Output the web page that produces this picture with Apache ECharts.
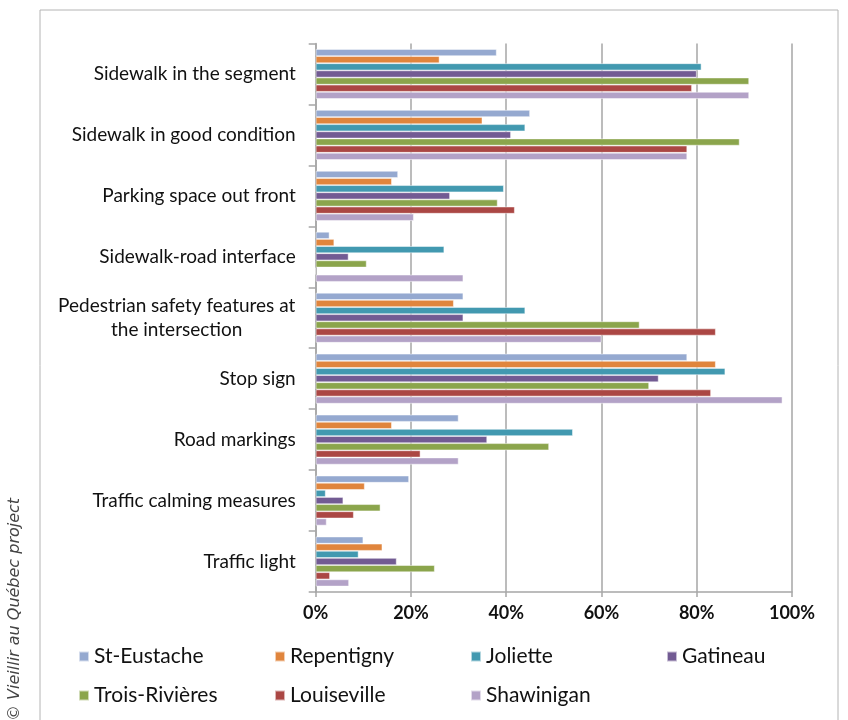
<!DOCTYPE html>
<html>
<head>
<meta charset="utf-8">
<script src="https://cdn.jsdelivr.net/npm/echarts@6/dist/echarts.min.js"></script>
<style>
html,body{margin:0;padding:0;background:#fff;}
#chart{width:848px;height:720px;}
</style>
</head>
<body>
<div id="chart"></div>
<script>
const categories = [
  'Sidewalk in the segment',
  'Sidewalk in good condition',
  'Parking space out front',
  'Sidewalk-road interface',
  'Pedestrian safety features at the intersection',
  'Stop sign',
  'Road markings',
  'Traffic calming measures',
  'Traffic light'
];
const seriesNames = ['St-Eustache','Repentigny','Joliette','Gatineau','Trois-Rivières','Louiseville','Shawinigan'];
const stEustache   = [38, 45, 17.3, 2.9, 31, 78, 30, 19.6, 10];
const repentigny   = [26, 35, 16, 3.9, 29, 84, 16, 10.3, 14];
const joliette     = [81, 44, 39.5, 27, 44, 86, 54, 2.1, 9];
const gatineau     = [80, 41, 28.2, 6.9, 31, 72, 36, 5.8, 17];
const troisRivieres= [91, 89, 38.2, 10.7, 68, 70, 49, 13.6, 25];
const louiseville  = [79, 78, 41.8, 0, 84, 83, 22, 8, 3];
const shawinigan   = [91, 78, 20.6, 31, 60, 98, 30, 2.3, 7];
const tickLabels = ['0%','20%','40%','60%','80%','100%'];

const seriesData = [stEustache, repentigny, joliette, gatineau, troisRivieres, louiseville, shawinigan];
const colors = ['#95a9d0','#e0853d','#4299b0','#725b93','#8ba54c','#ab4744','#b3a2c7'];

const chart = echarts.init(document.getElementById('chart'), null, {renderer:'canvas'});

const legendPos = [
  [78,646],[274,646],[470,646],[666,646],
  [78,685],[274,685],[470,685]
];

const option = {
  animation:false,
  backgroundColor:'#fff',
  textStyle:{fontFamily:'Lato'},
  color: colors,
  grid:{left:315.7, right:56, top:43.5, bottom:128, containLabel:false},
  legend: seriesNames.map((n,i)=>({
    data:[n], left:legendPos[i][0], top:legendPos[i][1], padding:0,
    icon:'rect', itemWidth:10, itemHeight:10, itemGap:6,
    textStyle:{fontSize:21, color:'#111', fontFamily:'Lato', padding:[0,0,0,0]},
    selectedMode:false
  })),
  xAxis:{
    type:'value', min:0, max:100, interval:20,
    axisLine:{show:true, lineStyle:{color:'#a6a6a6', width:1.5}},
    axisTick:{show:true, length:5, lineStyle:{color:'#a6a6a6', width:1.5}},
    splitLine:{show:true, lineStyle:{color:'#a6a6a6', width:1.5}},
    axisLabel:{formatter:(v)=>tickLabels[v/20], fontSize:18, fontWeight:'bold', color:'#111', margin:12, fontFamily:'Lato'}
  },
  yAxis:{
    type:'category', data:categories, inverse:true,
    axisLine:{show:true, lineStyle:{color:'#a6a6a6', width:1.5}},
    axisTick:{show:true, length:7, alignWithLabel:false, lineStyle:{color:'#a6a6a6', width:1.5}},
    axisLabel:{
      fontSize:19, color:'#111', margin:20, fontFamily:'Lato',
      formatter:(v)=> v.indexOf('Pedestrian')===0 ? '{c|Pedestrian safety features at}\n{c|the intersection}' : v,
      rich:{c:{width:238, align:'center', fontSize:19, color:'#111', fontFamily:'Lato', lineHeight:24}}
    }
  },
  series: seriesNames.map((n,i)=>({
    name:n, type:'bar', data:seriesData[i],
    barGap:'0%', barCategoryGap:'18%',
    itemStyle:{color:colors[i], borderColor:'rgba(255,255,255,0.6)', borderWidth:0.8}
  })),
  graphic:[
    {type:'rect', shape:{x:40, y:10, width:798, height:720}, style:{fill:'none', stroke:'#b4b4b4', lineWidth:1}, silent:true},
    {type:'text', x:15, y:721, rotation:Math.PI/2,
     style:{text:'© Vieillir au Québec project', font:'italic 16px "DejaVu Sans"', fill:'#444', textAlign:'left', textVerticalAlign:'middle'}}
  ]
};
chart.setOption(option);
</script>
</body>
</html>
